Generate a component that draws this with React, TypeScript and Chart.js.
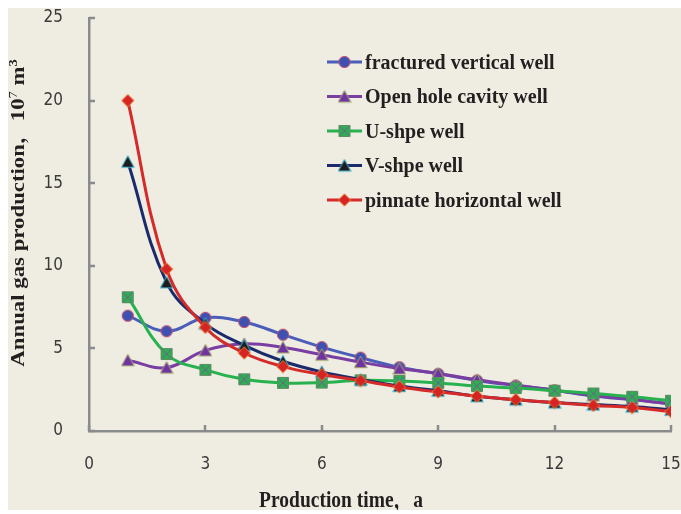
import React, { useEffect, useRef } from "react";
import { Chart, registerables } from "chart.js";

Chart.register(...registerables);

// ---------- data ----------
const years = [1, 2, 3, 4, 5, 6, 7, 8, 9, 10, 11, 12, 13, 14, 15];
const fracturedVertical = [6.98, 6.04, 6.85, 6.6, 5.83, 5.08, 4.44, 3.86, 3.46, 3.06, 2.75, 2.47, 2.12, 1.9, 1.65];
const openHoleCavity = [4.28, 3.84, 4.88, 5.28, 5.06, 4.62, 4.17, 3.78, 3.48, 3.1, 2.78, 2.47, 2.15, 1.92, 1.62];
const uShape = [8.1, 4.66, 3.7, 3.13, 2.91, 2.93, 3.07, 3.03, 2.91, 2.72, 2.6, 2.44, 2.27, 2.07, 1.83];
const vShape = [16.3, 9.0, 6.5, 5.18, 4.22, 3.58, 3.12, 2.72, 2.44, 2.1, 1.9, 1.72, 1.6, 1.48, 1.28];
const pinnateHorizontal = [20.0, 9.8, 6.27, 4.72, 3.9, 3.42, 3.05, 2.67, 2.37, 2.11, 1.9, 1.72, 1.55, 1.42, 1.18];

const seriesNames = [
  "fractured vertical well",
  "Open hole cavity well",
  "U-shpe well",
  "V-shpe well",
  "pinnate horizontal well",
];
const seriesValues = [fracturedVertical, openHoleCavity, uShape, vShape, pinnateHorizontal];

const xTicksMin = 0;
const xTicksMax = 15;
const xTickStep = 3;
const yTicksMin = 0;
const yTicksMax = 25;
const yTickStep = 5;

const xTitle = "Production time\uFF0Ca";
const yTitleMain = "Annual gas production\uFF0C10";
const yTitleSup1 = "7";
const yTitleMid = " m";
const yTitleSup2 = "3";

// ---------- styles ----------
const CANVAS_W = 673;
const CANVAS_H = 502;
const BG = "#efece2";
const AXIS = "#8a8b8d";
const TEXT = "#231f20";
const SERIF = "'Liberation Serif', 'Times New Roman', 'Noto Serif CJK SC', 'Noto Sans CJK SC', serif";
const TICK_FONT = "'Liberation Sans Narrow', 'DejaVu Sans Condensed', 'Liberation Sans', sans-serif";

const lineColors = ["#4a5db9", "#7a3ea3", "#27b24f", "#1b2a6a", "#d42a2a"];
const markerKinds = ["circle", "triangle", "square", "triangle", "diamond"];
const markerFills = ["#3e50b2", "#7034a2", "#2fad52", "#1c1c1c", "#d42424"];
const markerStrokes = ["#c4506a", "#a3a86a", "#5e8c64", "#43b6d6", "#f07c32"];

function makeMarker(kind: string, fill: string, stroke: string): HTMLCanvasElement {
  const c = document.createElement("canvas");
  c.width = 14;
  c.height = 14;
  const g = c.getContext("2d")!;
  g.fillStyle = fill;
  g.strokeStyle = stroke;
  g.lineWidth = 1;
  g.beginPath();
  if (kind === "circle") g.arc(7, 7, 5.6, 0, Math.PI * 2);
  else if (kind === "triangle") {
    g.moveTo(7, 1);
    g.lineTo(13.3, 12.6);
    g.lineTo(0.7, 12.6);
    g.closePath();
  } else if (kind === "square") g.rect(1.5, 1.5, 11, 11);
  else {
    g.moveTo(7, 0.8);
    g.lineTo(13.2, 7);
    g.lineTo(7, 13.2);
    g.lineTo(0.8, 7);
    g.closePath();
  }
  g.fill();
  g.stroke();
  if (kind === "square") {
    g.strokeStyle = "#6d5f8f";
    g.beginPath();
    g.moveTo(2.5, 2.5);
    g.lineTo(11.5, 11.5);
    g.moveTo(11.5, 2.5);
    g.lineTo(2.5, 11.5);
    g.stroke();
  }
  return c;
}

export default function App() {
  const ref = useRef<HTMLCanvasElement | null>(null);

  useEffect(() => {
    document.documentElement.style.overflow = "hidden";
    const canvas = ref.current!;
    const markers = markerKinds.map((k, i) => makeMarker(k, markerFills[i], markerStrokes[i]));

    const bgPlugin = {
      id: "bg",
      beforeDraw(chart: any) {
        const ctx = chart.ctx;
        ctx.save();
        ctx.fillStyle = BG;
        ctx.fillRect(0, 0, chart.width, chart.height);
        ctx.restore();
      },
    };

    const decoPlugin = {
      id: "deco",
      afterDraw(chart: any) {
        const ctx: CanvasRenderingContext2D = chart.ctx;
        const xs = chart.scales.x;
        const ys = chart.scales.y;
        const area = chart.chartArea;
        ctx.save();
        // inside tick marks
        ctx.strokeStyle = AXIS;
        ctx.lineWidth = 2.5;
        ctx.beginPath();
        ys.ticks.forEach((t: any) => {
          const py = Math.round(ys.getPixelForValue(t.value));
          ctx.moveTo(area.left, py);
          ctx.lineTo(area.left + 6, py);
        });
        xs.ticks.forEach((t: any) => {
          const px = Math.round(xs.getPixelForValue(t.value));
          ctx.moveTo(px, area.bottom);
          ctx.lineTo(px, area.bottom - 6);
        });
        ctx.stroke();

        ctx.fillStyle = TEXT;
        // x title
        ctx.save();
        ctx.font = `bold 19.5px ${SERIF}`;
        ctx.textAlign = "center";
        ctx.textBaseline = "alphabetic";
        ctx.translate(333, 499);
        ctx.scale(1, 1.2);
        ctx.fillText(xTitle, 0, 0);
        ctx.restore();

        // y title (rotated, with superscripts)
        ctx.save();
        ctx.translate(16, 205);
        ctx.rotate(-Math.PI / 2);
        ctx.scale(1.2, 1);
        ctx.textAlign = "left";
        ctx.textBaseline = "alphabetic";
        const big = `bold 19px ${SERIF}`;
        const small = `12px ${SERIF}`;
        ctx.font = big;
        const w1 = ctx.measureText(yTitleMain).width;
        const w3 = ctx.measureText(yTitleMid).width;
        ctx.font = small;
        const w2 = ctx.measureText(yTitleSup1).width;
        const w4 = ctx.measureText(yTitleSup2).width;
        let x = -(w1 + w2 + w3 + w4) / 2;
        ctx.font = big;
        ctx.fillText(yTitleMain, x, 0);
        x += w1;
        ctx.font = small;
        ctx.fillText(yTitleSup1, x, -7);
        x += w2;
        ctx.font = big;
        ctx.fillText(yTitleMid, x, 0);
        x += w3;
        ctx.font = `bold 12px ${SERIF}`;
        ctx.fillText(yTitleSup2, x, -7);
        ctx.restore();

        // legend
        ctx.save();
        ctx.font = `bold 20px ${SERIF}`;
        ctx.textAlign = "left";
        ctx.textBaseline = "alphabetic";
        chart.data.datasets.forEach((ds: any, i: number) => {
          const base = 60.5 + i * 34.5;
          const ly = base - 6.5;
          ctx.strokeStyle = ds.borderColor;
          ctx.lineWidth = 3;
          ctx.beginPath();
          ctx.moveTo(319, ly);
          ctx.lineTo(354, ly);
          ctx.stroke();
          const m = markers[i];
          ctx.drawImage(m, 336.5 - m.width / 2, ly - m.height / 2);
          ctx.fillStyle = TEXT;
          ctx.save();
          ctx.translate(357, base);
          ctx.scale(1, 1.06);
          ctx.fillText(ds.label, 0, 0);
          ctx.restore();
        });
        ctx.restore();

        ctx.restore();
      },
    };

    const datasets = seriesValues.map((vals, i) => ({
      label: seriesNames[i],
      data: years.map((yr, j) => ({ x: yr, y: vals[j] })),
      borderColor: lineColors[i],
      backgroundColor: lineColors[i],
      borderWidth: 3,
      pointStyle: markers[i],
      pointRadius: 7,
      tension: 0.4,
      fill: false,
      order: seriesValues.length - i,
    }));

    const chart = new Chart(canvas, {
      type: "line",
      data: { datasets },
      options: {
        animation: false,
        responsive: false,
        devicePixelRatio: 1,
        layout: { padding: { top: 8, right: 10, left: 0, bottom: 0 } },
        plugins: { legend: { display: false }, tooltip: { enabled: false } },
        scales: {
          x: {
            type: "linear",
            min: xTicksMin,
            max: xTicksMax,
            ticks: {
              stepSize: xTickStep,
              color: "#3a3a3a",
              padding: 15,
              font: { family: TICK_FONT, size: 17 },
            },
            grid: { display: false },
            border: { display: true, color: AXIS, width: 2.5 },
            afterFit(scale: any) {
              scale.height = 79;
              scale.paddingLeft = 0;
              scale.paddingRight = 0;
            },
          },
          y: {
            type: "linear",
            min: yTicksMin,
            max: yTicksMax,
            ticks: {
              stepSize: yTickStep,
              color: "#3a3a3a",
              padding: 18,
              font: { family: TICK_FONT, size: 17 },
            },
            grid: { display: false },
            border: { display: true, color: AXIS, width: 2.5 },
            afterFit(scale: any) {
              scale.width = 81;
              scale.paddingTop = 0;
              scale.paddingBottom = 0;
            },
          },
        },
      },
      plugins: [bgPlugin, decoPlugin],
    } as any);

    return () => chart.destroy();
  }, []);

  return (
    <canvas
      ref={ref}
      width={CANVAS_W}
      height={CANVAS_H}
      style={{ display: "block", position: "absolute", left: 8, top: 8, width: CANVAS_W, height: CANVAS_H }}
    />
  );
}
